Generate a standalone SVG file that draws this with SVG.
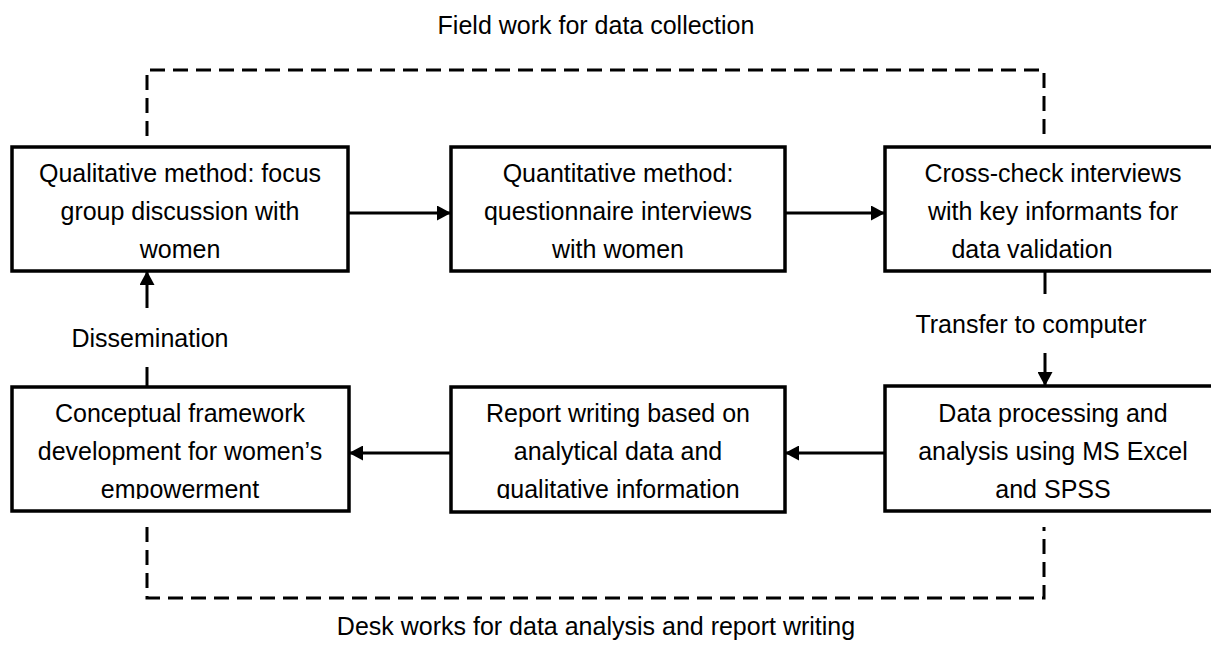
<svg xmlns="http://www.w3.org/2000/svg" width="1211" height="648" viewBox="0 0 1211 648">
<style>
text{font-family:"Liberation Sans",Arial,sans-serif;font-size:25px;fill:#000;text-anchor:middle}
.box{fill:#fff;stroke:#000;stroke-width:3.5}
.ln{fill:none;stroke:#000;stroke-width:3}
.dash{fill:none;stroke:#000;stroke-width:3;stroke-dasharray:15 8}
</style>
<defs>
<marker id="ah" viewBox="0 0 14 15" refX="14" refY="7.5" markerWidth="14" markerHeight="15" markerUnits="userSpaceOnUse" orient="auto">
<path d="M0,0 L14,7.5 L0,15 Z" fill="#000"/>
</marker>
<clipPath id="clipBottom"><rect x="0" y="0" width="1211" height="499"/></clipPath>
</defs>
<text x="596" y="34">Field work for data collection</text>
<text x="596" y="635">Desk works for data analysis and report writing</text>
<g id="connectors">
<path class="dash" d="M147,136 V70 H1044 V136"/>
<path class="dash" d="M147,527 V598 H1044 V527"/>
<line class="ln" x1="348" y1="213" x2="451" y2="213" marker-end="url(#ah)"/>
<line class="ln" x1="785" y1="213" x2="885" y2="213" marker-end="url(#ah)"/>
<line class="ln" x1="885" y1="453" x2="785" y2="453" marker-end="url(#ah)"/>
<line class="ln" x1="451" y1="453" x2="349" y2="453" marker-end="url(#ah)"/>
<line class="ln" x1="1045" y1="271" x2="1045" y2="294"/>
<line class="ln" x1="1045" y1="353" x2="1045" y2="386" marker-end="url(#ah)"/>
<line class="ln" x1="147" y1="387" x2="147" y2="367"/>
<line class="ln" x1="147" y1="308" x2="147" y2="271" marker-end="url(#ah)"/>
<text x="150" y="347">Dissemination</text>
<text x="1031" y="333">Transfer to computer</text>
</g>
<g id="n1">
<rect class="box" x="12" y="147" width="336" height="124"/>
<text x="180" y="182">Qualitative method: focus</text>
<text x="180" y="220">group discussion with</text>
<text x="180" y="258">women</text>
</g>
<g id="n2">
<rect class="box" x="451" y="147" width="334" height="124"/>
<text x="618" y="182">Quantitative method:</text>
<text x="618" y="220">questionnaire interviews</text>
<text x="618" y="258">with women</text>
</g>
<g id="n3">
<rect class="box" x="885" y="147" width="340" height="124"/>
<text x="1053" y="182">Cross-check interviews</text>
<text x="1053" y="220">with key informants for</text>
<text x="1032" y="258">data validation</text>
</g>
<g id="n4">
<rect class="box" x="12" y="387" width="337" height="124"/>
<g clip-path="url(#clipBottom)">
<text x="180" y="422">Conceptual framework</text>
<text x="180" y="460">development for women’s</text>
<text x="180" y="498">empowerment</text>
</g>
</g>
<g id="n5">
<rect class="box" x="885" y="386" width="340" height="125"/>
<g clip-path="url(#clipBottom)">
<text x="1053" y="422">Data processing and</text>
<text x="1053" y="460">analysis using MS Excel</text>
<text x="1053" y="498">and SPSS</text>
</g>
</g>
<g id="n6">
<rect class="box" x="451" y="387" width="334" height="125"/>
<g clip-path="url(#clipBottom)">
<text x="618" y="422">Report writing based on</text>
<text x="618" y="460">analytical data and</text>
<text x="618" y="498">qualitative information</text>
</g>
</g>
</svg>
